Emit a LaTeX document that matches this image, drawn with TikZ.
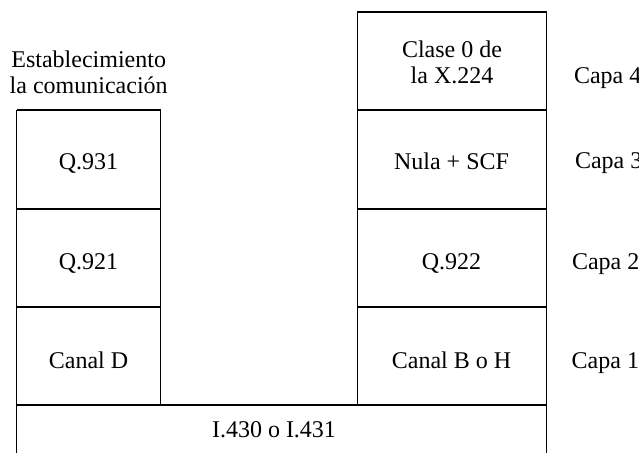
\documentclass[tikz,border=0pt]{standalone}
\usepackage{fontspec}
\setmainfont{Liberation Serif}
\begin{document}
\begin{tikzpicture}[x=1pt,y=-1pt,
  cell/.style={draw=black, line width=1pt, rectangle, inner sep=0pt, outer sep=0pt},
  hline/.style={draw=black, line width=2pt},
  lbl/.style={inner sep=0pt, outer sep=0pt, font=\fontsize{24}{25}\selectfont, align=center}]
\useasboundingbox (0,0) rectangle (639,452);
% left column
\node[cell, minimum width=144pt, minimum height=98.5pt] (q931) at (88.5,159.5) {};
\node[cell, minimum width=144pt, minimum height=98pt] (q921) at (88.5,258) {};
\node[cell, minimum width=144pt, minimum height=98pt] (cand) at (88.5,356) {};
% right column
\node[cell, minimum width=189pt, minimum height=98pt] (x224) at (451.5,61) {};
\node[cell, minimum width=189pt, minimum height=98.5pt] (nula) at (451.5,159.5) {};
\node[cell, minimum width=189pt, minimum height=98pt] (q922) at (451.5,258) {};
\node[cell, minimum width=189pt, minimum height=98pt] (canb) at (451.5,356) {};
% bottom
\node[cell, minimum width=529.5pt, minimum height=60pt, anchor=north west] (base) at (16.5,405) {};
% thick horizontals
\draw[hline] (q931.north west) -- (q931.north east);
\draw[hline] (q921.north west) -- (q921.north east);
\draw[hline] (cand.north west) -- (cand.north east);
\draw[hline] (x224.north west) -- (x224.north east);
\draw[hline] (nula.north west) -- (nula.north east);
\draw[hline] (q922.north west) -- (q922.north east);
\draw[hline] (canb.north west) -- (canb.north east);
\draw[hline] (base.north west) -- (base.north east);
% texts
\node[lbl, anchor=base] (t931) at (88.5,169.5) {Q.931};
\node[lbl, anchor=base] (t921) at (88.5,269) {Q.921};
\node[lbl, anchor=base] (tcand) at (88.5,368.5) {Canal D};
\node[lbl, anchor=base] (tnula) at (451.5,169.5) {Nula + SCF};
\node[lbl, anchor=base] (t922) at (451.5,269) {Q.922};
\node[lbl, anchor=base] (tcanb) at (451.5,368.5) {Canal B o H};
\node[lbl, anchor=base] (tbase) at (274,437) {I.430 o I.431};
\node[lbl, anchor=base] (tx1) at (452,58) {Clase 0 de};
\node[lbl, anchor=base] (tx2) at (452,83) {la X.224};
\node[lbl, anchor=base] (te1) at (88.7,67.5) {Establecimiento};
\node[lbl, anchor=base] (te2) at (88.7,93.5) {la comunicación};
\node[lbl, anchor=base west] (c4) at (574,83) {Capa 4};
\node[lbl, anchor=base west] (c3) at (575,168.5) {Capa 3};
\node[lbl, anchor=base west] (c2) at (572,269) {Capa 2};
\node[lbl, anchor=base west] (c1) at (571.7,368.5) {Capa 1};
\end{tikzpicture}
\end{document}
